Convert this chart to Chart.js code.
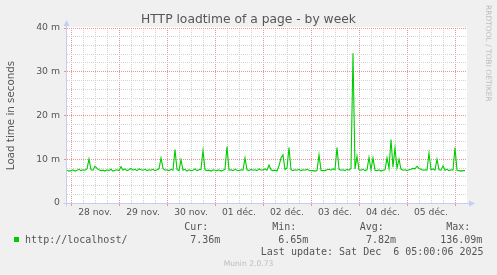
<!DOCTYPE html>
<html>
<head>
<meta charset="utf-8">
<title>HTTP loadtime of a page - by week</title>
<script src="https://cdn.jsdelivr.net/npm/chart.js@4/dist/chart.umd.min.js"></script>
<style>
    body { margin: 0; background: #f0f0f0; }
    #wrap { position: relative; width: 497px; height: 275px; overflow: hidden; }
    #chart { position: absolute; left: 0; top: 0; }
    .txt { position: absolute; white-space: pre; line-height: 1; color: #555; }
    .mono { font-family: 'DejaVu Sans Mono', monospace; font-size: 10px; }
    .title { font-family: 'DejaVu Sans', sans-serif; font-size: 12.3px; left: 0; width: 497px; text-align: center; top: 12.6px; }
    .mark { font-family: 'DejaVu Sans', sans-serif; font-size: 7.5px; color: #bdbdbd; transform: rotate(90deg); transform-origin: left top; left: 491.9px; top: 4.5px; }
    .footer { font-family: 'DejaVu Sans', sans-serif; font-size: 7.6px; color: #bdbdbd; left: 0; width: 497px; text-align: center; top: 260.3px; }
    #swatch { position: absolute; left: 14px; top: 237px; width: 5px; height: 5px; background: #00cc00; }
</style>
</head>
<body>
<div id="wrap">
    <canvas id="chart" width="497" height="275"></canvas>
    <div class="txt title">HTTP loadtime of a page - by week</div>
    <div class="txt mark">RRDTOOL / TOBI OETIKER</div>

    <div id="swatch"></div>
    <div class="txt mono" style="left:184.2px;top:222.2px">Cur:</div>
    <div class="txt mono" style="left:272.2px;top:222.2px">Min:</div>
    <div class="txt mono" style="left:359.8px;top:222.2px">Avg:</div>
    <div class="txt mono" style="left:446.2px;top:222.2px">Max:</div>
    <div class="txt mono" style="left:25.1px;top:234.9px">http://localhost/</div>
    <div class="txt mono" style="left:190.2px;top:234.9px">7.36m</div>
    <div class="txt mono" style="left:278.2px;top:234.9px">6.65m</div>
    <div class="txt mono" style="left:365.9px;top:234.9px">7.82m</div>
    <div class="txt mono" style="left:440.2px;top:234.9px">136.09m</div>
    <div class="txt mono" style="left:260.8px;top:246.9px">Last update: Sat Dec  6 05:00:06 2025</div>
    <div class="txt footer">Munin 2.0.73</div>
</div>

<script>
// Hours are counted from 28 nov. 00:00, one value per hour
const startHour = -2;

// Load time in ms, per day
const loadNov27 = [7.5, 7.3];
const loadNov28 = [7.4, 7.6, 7.3, 7.5, 7.7, 7.4, 7.6, 7.5, 7.8, 10.1, 7.6, 7.5,
                   8.4, 7.9, 7.6, 7.4, 7.5, 7.3, 7.6, 7.4, 7.7, 7.3, 7.5, 7.6];
const loadNov29 = [7.4, 8.3, 7.5, 7.8, 7.4, 7.6, 7.9, 7.5, 7.7, 7.4, 7.8, 7.6,
                   7.5, 7.7, 7.4, 7.6, 7.5, 7.7, 7.4, 7.6, 7.8, 10.3, 7.9, 7.5];
const loadNov30 = [7.6, 7.4, 7.7, 7.5, 12.2, 7.6, 7.4, 9.9, 7.5, 7.7, 7.3, 7.6,
                   7.4, 7.5, 7.8, 7.4, 7.6, 7.7, 12.0, 7.6, 7.4, 7.5, 7.3, 7.6];
const loadDec01 = [7.5, 7.4, 7.6, 7.3, 7.5, 7.7, 12.9, 7.5, 7.6, 7.4, 7.7, 7.5,
                   7.4, 7.6, 7.5, 10.3, 7.6, 7.4, 7.7, 7.5, 7.6, 7.4, 7.8, 7.5];
const loadDec02 = [7.6, 7.8, 7.5, 8.7, 7.6, 7.4, 7.5, 7.3, 8.5, 10.3, 11.0, 7.6,
                   8.0, 12.7, 7.6, 7.4, 7.6, 7.5, 7.7, 7.4, 7.6, 7.5, 7.7, 7.5];
const loadDec03 = [7.4, 7.4, 7.3, 7.4, 11.0, 7.5, 7.4, 7.4, 7.6, 7.7, 7.5, 7.8,
                   7.6, 12.7, 7.7, 7.5, 7.6, 7.4, 7.7, 7.5, 7.9, 34.2, 7.8, 10.7];
const loadDec04 = [7.6, 7.5, 7.7, 7.4, 7.6, 10.4, 7.6, 10.3, 7.5, 7.4, 7.6, 7.3,
                   7.5, 7.6, 10.3, 7.9, 14.5, 8.2, 12.6, 8.0, 10.0, 7.7, 7.5, 7.6];
const loadDec05 = [7.4, 7.6, 7.7, 7.9, 7.8, 8.4, 7.9, 7.7, 7.5, 7.6, 7.5, 11.4,
                   7.6, 7.8, 7.5, 10.0, 7.6, 7.5, 8.5, 7.5, 7.7, 7.4, 7.6, 7.5];
const loadDec06 = [12.7, 7.5, 7.4, 7.3, 7.4, 7.4];

const dayLabels = ['28 nov.', '29 nov.', '30 nov.', '01 déc.', '02 déc.', '03 déc.', '04 déc.', '05 déc.'];

const loadValues = [].concat(loadNov27, loadNov28, loadNov29, loadNov30, loadDec01,
                             loadDec02, loadDec03, loadDec04, loadDec05, loadDec06);

const MINOR = '#d2d2d2';
const MAJOR = '#e99494';
const AXIS = '#c6cdf2';

// grid every 6 hours, red at midnight
const gridHours = [];
for (let h = 0; h <= 192; h += 6) gridHours.push(h);

// Paint the grey canvas, white plot, then axes with arrows
const rrdFrame = {
    id: 'rrdFrame',
    beforeDraw(chart) {
        const { ctx, chartArea: a } = chart;
        ctx.save();
        ctx.fillStyle = '#f0f0f0';
        ctx.fillRect(0, 0, chart.width, chart.height);
        ctx.fillStyle = '#ffffff';
        ctx.fillRect(a.left, a.top - 1, a.right - a.left, a.bottom - a.top + 1);
        ctx.restore();
    },
    afterDatasetsDraw(chart) {
        const { ctx, chartArea: a } = chart;
        const x = Math.round(a.left) - 0.5;
        const y = Math.round(a.bottom) + 0.5;
        ctx.save();
        ctx.strokeStyle = AXIS;
        ctx.fillStyle = AXIS;
        ctx.lineWidth = 1;
        ctx.beginPath();
        ctx.moveTo(x, y + 3);
        ctx.lineTo(x, a.top - 3);
        ctx.moveTo(x - 3, y);
        ctx.lineTo(a.right + 3, y);
        ctx.stroke();
        // top arrow
        ctx.beginPath();
        ctx.moveTo(x - 3, a.top - 2);
        ctx.lineTo(x + 3, a.top - 2);
        ctx.lineTo(x, a.top - 8);
        ctx.closePath();
        ctx.fill();
        // right arrow
        ctx.beginPath();
        ctx.moveTo(a.right + 2, y - 3);
        ctx.lineTo(a.right + 2, y + 3);
        ctx.lineTo(a.right + 8, y);
        ctx.closePath();
        ctx.fill();
        ctx.restore();
    }
};

const chart = new Chart(document.getElementById('chart'), {
    type: 'line',
    data: {
        datasets: [{
            label: 'http://localhost/',
            data: loadValues.map((v, i) => ({ x: startHour + i, y: v })),
            borderColor: '#00cc00',
            borderWidth: 1.1,
            pointRadius: 0,
            tension: 0,
            fill: false
        }]
    },
    options: {
        responsive: false,
        animation: false,
        devicePixelRatio: 1,
        layout: { padding: { left: 0, right: 30, top: 28, bottom: 52 } },
        plugins: {
            legend: { display: false },
            tooltip: { enabled: false },
            title: { display: false }
        },
        scales: {
            x: {
                type: 'linear',
                min: -2,
                max: 198,
                afterBuildTicks: (scale) => {
                    scale.ticks = gridHours.map(v => ({ value: v }));
                },
                afterFit: (scale) => { scale.height = 20; },
                grid: {
                    color: (c) => (c.tick && c.tick.value % 24 === 0) ? MAJOR : MINOR,
                    tickColor: (c) => (c.tick && c.tick.value % 24 === 0) ? MAJOR : 'rgba(0,0,0,0)',
                    tickLength: 3,
                    lineWidth: 1
                },
                border: { display: false, dash: [1, 1] },
                ticks: {
                    autoSkip: false,
                    maxRotation: 0,
                    padding: 1,
                    color: '#555',
                    font: { family: 'DejaVu Sans', size: 9.2 },
                    callback: (v) => (v % 24 === 12) ? dayLabels[(v - 12) / 24] : ''
                }
            },
            y: {
                min: 0,
                max: 40,
                afterFit: (scale) => { scale.width = 67; },
                grid: {
                    color: (c) => (c.tick && c.tick.value % 10 === 0) ? MAJOR : MINOR,
                    tickColor: (c) => (c.tick && c.tick.value % 10 === 0) ? MAJOR : 'rgba(0,0,0,0)',
                    tickLength: 3,
                    lineWidth: 1
                },
                border: { display: false, dash: [1, 1] },
                ticks: {
                    stepSize: 2,
                    autoSkip: false,
                    padding: 4,
                    color: '#555',
                    font: { family: 'DejaVu Sans', size: 9.3 },
                    callback: (v) => (v % 10 === 0) ? (v === 0 ? '0' : v + ' m') : ''
                },
                title: {
                    display: true,
                    text: 'Load time in seconds',
                    color: '#555',
                    font: { family: 'DejaVu Sans', size: 10.3 },
                    padding: { top: 5, bottom: 0 }
                }
            }
        }
    },
    plugins: [rrdFrame]
});
</script>
</body>
</html>
